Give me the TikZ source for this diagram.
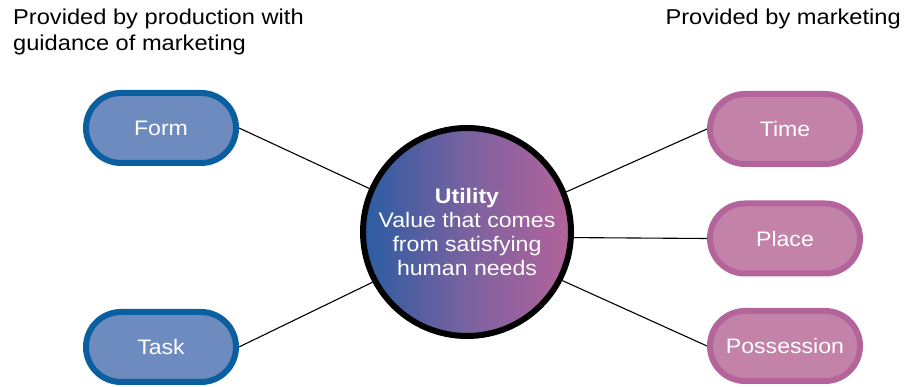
\documentclass[tikz,border=0pt]{standalone}
\usepackage{fontspec}
\setmainfont{Liberation Sans}[FakeStretch=1.1]
\usetikzlibrary{shapes.misc}
\definecolor{bluefill}{HTML}{6E8BC0}
\definecolor{blueline}{HTML}{0A5FA0}
\definecolor{pinkfill}{HTML}{C383A9}
\definecolor{pinkline}{HTML}{B3649A}
\definecolor{gradL}{HTML}{2A5CA2}
\definecolor{gradM}{HTML}{7A62A0}
\definecolor{gradR}{HTML}{B4629A}
\begin{document}
\begin{tikzpicture}[x=1pt,y=-1pt,
  pill/.style={rectangle, rounded corners=35pt, minimum width=150pt, minimum height=70pt,
    line width=6pt, text=white, font=\fontsize{21}{24}\selectfont, inner sep=0pt},
  bluepill/.style={pill, draw=blueline, fill=bluefill},
  pinkpill/.style={pill, draw=pinkline, fill=pinkfill},
  heading/.style={font=\fontsize{21.5}{26}\selectfont, inner sep=0pt},
  link/.style={draw=black, line width=1.1pt}]
\useasboundingbox (0,0) rectangle (908,387);
\node[heading, anchor=base west] (h1) at (13,25) {Provided by production with};
\node[heading, anchor=base west] (h2) at (13,51) {guidance of marketing};
\node[heading, anchor=base east] (h3) at (901,25) {Provided by marketing};

\node[circle, minimum size=208pt, inner sep=0pt, line width=6pt, draw=black,
  left color=gradL, right color=gradR, middle color=gradM,
  text=white, align=center, font=\fontsize{21}{24}\selectfont] (util) at (467,232)
  {\textbf{Utility}\\Value that comes\\from satisfying\\human needs};

\node[bluepill] (form) at (161,128) {Form};
\node[bluepill] (task) at (161,347) {Task};
\node[pinkpill] (time) at (785,129) {Time};
\node[pinkpill] (place) at (785,238.5) {Place};
\node[pinkpill] (poss) at (785,346) {Possession};

\draw[link] (form.east) -- (util.156);
\draw[link] (task.east) -- (util.208);
\draw[link] (time.west) -- (util.22);
\draw[link] (place.west) -- (util.-3.5);
\draw[link] (poss.west) -- (util.-27);
\end{tikzpicture}
\end{document}
